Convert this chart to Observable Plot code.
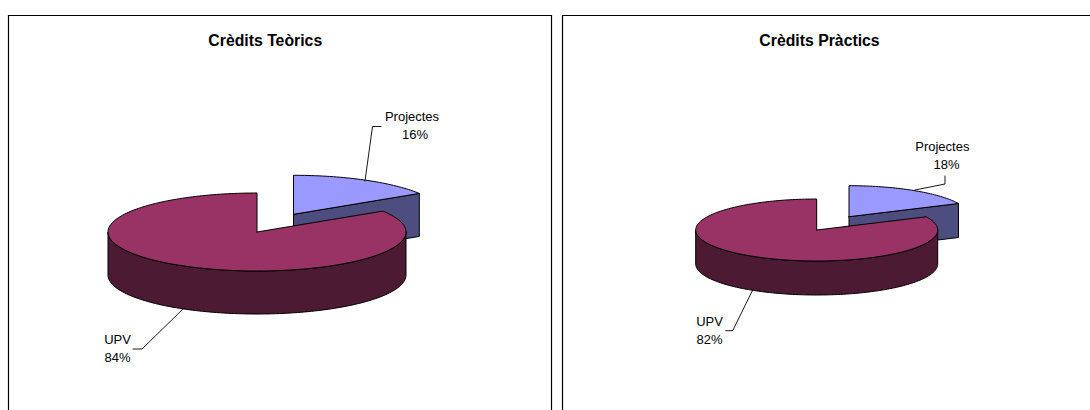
<!DOCTYPE html>
<html><head><meta charset="utf-8">
<script src="https://cdn.jsdelivr.net/npm/d3@7"></script>
<script src="https://cdn.jsdelivr.net/npm/@observablehq/plot@0.6"></script>
<style>html,body{margin:0;padding:0;background:#fff;overflow:hidden}svg{display:block}</style>
</head><body><div id="chart"></div>
<script>
const categories = ["Projectes", "UPV"];
const teorics = [16, 84];
const practics = [18, 82];
const titles = ["Crèdits Teòrics", "Crèdits Pràctics"];

const topColors = ["#9999ff", "#993366"];
const sideColors = ["#4d4d80", "#4d1a33"];

// Panel layout, in page units
const panels = [
  {title: titles[0], values: teorics, titleX: 264.75,
   cx: 257, cy: 232, rx: 149, ry: 39, depth: 43, dx: 36.5, dy: -17.7,
   labels: [{nx: 411.5, ny: 120, px: 414.5, py: 138}, {nx: 117, ny: 343, px: 117, py: 361.5}],
   leaders: [[[365, 181], [372.5, 126.5], [381, 126.5]], [[184, 308], [142, 349], [133, 349]]]},
  {title: titles[1], values: practics, titleX: 819,
   cx: 816.7, cy: 230, rx: 121, ry: 31, depth: 34, dx: 32.3, dy: -13.3,
   labels: [{nx: 941.8, ny: 150, px: 946, py: 168}, {nx: 709, ny: 325, px: 709, py: 343}],
   leaders: [[[915, 190], [945, 184], [945, 176]], [[752.7, 290], [732.7, 330.7], [725.7, 330.7]]]}
];

const pie = d3.pie().sort(null).value(d => d);
function pt(p, a, ox = 0, oy = 0) {
  return [p.cx + ox + p.rx * Math.sin(a), p.cy + oy - p.ry * Math.cos(a)];
}
function arc(p, a0, a1, ox = 0, oy = 0) {
  const n = Math.max(2, Math.ceil(Math.abs(a1 - a0) * 40));
  return d3.range(n + 1).map(i => pt(p, a0 + (a1 - a0) * i / n, ox, oy));
}

const polys = [];
const add = (id, fill, pts) => pts.forEach(q => polys.push({id, fill, x: q[0], y: q[1]}));
const names = [], pcts = [], leaderPts = [], ttl = [];

panels.forEach((p, k) => {
  const [blue, red] = pie(p.values);
  const ox = p.dx, oy = p.dy;
  const tip = pt(p, blue.endAngle, ox, oy);
  const ap = [p.cx + ox, p.cy + oy];
  add(`w${k}`, sideColors[0], [ap, tip, [tip[0], tip[1] + p.depth], [ap[0], ap[1] + p.depth], ap]);
  add(`t${k}`, topColors[0], [ap, ...arc(p, blue.startAngle, blue.endAngle, ox, oy), ap]);
  const rimTop = arc(p, Math.PI / 2, 3 * Math.PI / 2);
  const rimBot = rimTop.map(q => [q[0], q[1] + p.depth]).reverse();
  add(`r${k}`, sideColors[1], [...rimTop, ...rimBot, rimTop[0]]);
  const c = [p.cx, p.cy];
  add(`u${k}`, topColors[1], [c, ...arc(p, red.startAngle, red.endAngle), c]);

  categories.forEach((name, i) => {
    const l = p.labels[i];
    names.push({x: l.nx, y: l.ny, t: name});
    pcts.push({x: l.px, y: l.py, t: p.values[i] + "%"});
    p.leaders[i].forEach(q => leaderPts.push({id: `${k}-${i}`, x: q[0], y: q[1]}));
  });
  ttl.push({x: p.titleX, y: 45, t: p.title});
});

const order = ["w0","t0","r0","u0","w1","t1","r1","u1"];
const shift = {dx: -0.5, dy: -0.5};
const chart = Plot.plot({
  width: 1090, height: 410,
  margin: 0,
  x: {domain: [0, 1090], range: [0, 1090], axis: null},
  y: {domain: [0, 410], range: [0, 410], axis: null},
  marks: [
    Plot.ruleX([8.5, 551.5, 562.5], {y1: 15.5, y2: 411, stroke: "#000", strokeWidth: 1.2, ...shift}),
    Plot.ruleY([15.5], {x1: 8.5, x2: 551.5, stroke: "#000", strokeWidth: 1.2, ...shift}),
    Plot.ruleY([15.5], {x1: 562.5, x2: 1091, stroke: "#000", strokeWidth: 1.2, ...shift}),
    ...order.map(id => Plot.line(polys.filter(d => d.id === id), {
      x: "x", y: "y", fill: d => d.fill, stroke: "#000", strokeWidth: 1,
      strokeLinejoin: "round", curve: "linear", ...shift
    })),
    Plot.line(leaderPts, {x: "x", y: "y", z: "id", stroke: "#000", strokeWidth: 0.9, curve: "linear", ...shift}),
    Plot.text(names, {x: "x", y: "y", text: "t", textAnchor: "middle", lineAnchor: "bottom",
      fontFamily: "Liberation Sans", fontSize: 13, fill: "#000"}),
    Plot.text(pcts, {x: "x", y: "y", text: "t", textAnchor: "middle", lineAnchor: "bottom",
      fontFamily: "Liberation Sans", fontSize: 13, fill: "#000"}),
    Plot.text(ttl, {x: "x", y: "y", text: "t", textAnchor: "middle", lineAnchor: "bottom",
      fontFamily: "Liberation Sans", fontSize: 15.8, fontWeight: "bold", fill: "#000"})
  ]
});
document.getElementById("chart").append(chart);
</script></body></html>
